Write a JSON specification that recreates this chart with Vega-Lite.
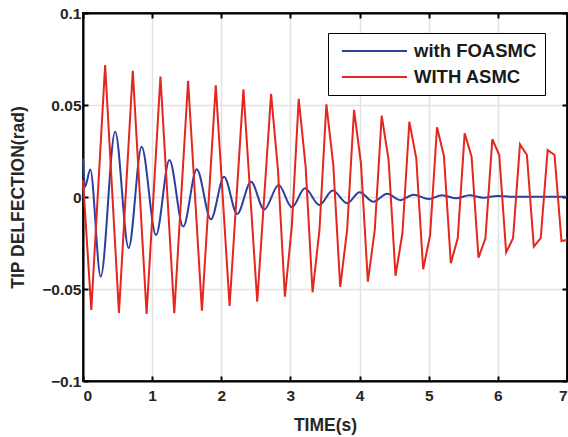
{
  "$schema": "https://vega.github.io/schema/vega-lite/v6.json",
  "width": 484,
  "height": 368,
  "autosize": {"type": "none"},
  "padding": {"left": 83, "top": 13, "right": 1, "bottom": 56},
  "background": "white",
  "config": {
    "view": {"stroke": "black", "strokeWidth": 2},
    "font": "Liberation Sans",
    "axis": {
      "labelFont": "Liberation Sans",
      "labelFontWeight": "bold",
      "labelFontSize": 15.5,
      "labelColor": "#262626",
      "titleFont": "Liberation Sans",
      "titleFontWeight": "bold",
      "titleFontSize": 17.5,
      "titleColor": "#262626",
      "domainColor": "black",
      "domainWidth": 2,
      "tickColor": "black",
      "tickWidth": 2,
      "gridColor": "#e2e2e2",
      "gridWidth": 1.5
    }
  },
  "datasets": {
    "d": [
      {"s": "with FOASMC", "t": 0, "v": 0.021},
      {"s": "with FOASMC", "t": 0.03, "v": 0.0055},
      {"s": "with FOASMC", "t": 0.105, "v": 0.015},
      {"s": "with FOASMC", "t": 0.256, "v": -0.0433},
      {"s": "with FOASMC", "t": 0.465, "v": 0.0355},
      {"s": "with FOASMC", "t": 0.66, "v": -0.0277},
      {"s": "with FOASMC", "t": 0.848, "v": 0.0273},
      {"s": "with FOASMC", "t": 1.056, "v": -0.0207},
      {"s": "with FOASMC", "t": 1.25, "v": 0.0201},
      {"s": "with FOASMC", "t": 1.45, "v": -0.0161},
      {"s": "with FOASMC", "t": 1.645, "v": 0.0151},
      {"s": "with FOASMC", "t": 1.85, "v": -0.0121},
      {"s": "with FOASMC", "t": 2.04, "v": 0.011},
      {"s": "with FOASMC", "t": 2.23, "v": -0.0092},
      {"s": "with FOASMC", "t": 2.43, "v": 0.0083},
      {"s": "with FOASMC", "t": 2.62, "v": -0.0068},
      {"s": "with FOASMC", "t": 2.83, "v": 0.0065},
      {"s": "with FOASMC", "t": 3.02, "v": -0.0056},
      {"s": "with FOASMC", "t": 3.21, "v": 0.0047},
      {"s": "with FOASMC", "t": 3.42, "v": -0.0043},
      {"s": "with FOASMC", "t": 3.61, "v": 0.0035},
      {"s": "with FOASMC", "t": 3.82, "v": -0.0034},
      {"s": "with FOASMC", "t": 4.0, "v": 0.0026},
      {"s": "with FOASMC", "t": 4.2, "v": -0.0026},
      {"s": "with FOASMC", "t": 4.4, "v": 0.0017},
      {"s": "with FOASMC", "t": 4.59, "v": -0.0017},
      {"s": "with FOASMC", "t": 4.78, "v": 0.0012},
      {"s": "with FOASMC", "t": 5.0, "v": -0.0011},
      {"s": "with FOASMC", "t": 5.19, "v": 0.001},
      {"s": "with FOASMC", "t": 5.4, "v": -0.0007},
      {"s": "with FOASMC", "t": 5.59, "v": 0.0009},
      {"s": "with FOASMC", "t": 5.79, "v": -0.0004},
      {"s": "with FOASMC", "t": 5.99, "v": 0.0006},
      {"s": "with FOASMC", "t": 6.2, "v": 0.0001},
      {"s": "with FOASMC", "t": 6.6, "v": 0.0002},
      {"s": "with FOASMC", "t": 7.0, "v": 0.0001},
      {"s": "WITH ASMC", "t": 0, "v": 0.0092},
      {"s": "WITH ASMC", "t": 0.12, "v": -0.0614},
      {"s": "WITH ASMC", "t": 0.32, "v": 0.0717},
      {"s": "WITH ASMC", "t": 0.52, "v": -0.063},
      {"s": "WITH ASMC", "t": 0.72, "v": 0.0686},
      {"s": "WITH ASMC", "t": 0.92, "v": -0.0636},
      {"s": "WITH ASMC", "t": 1.12, "v": 0.0654},
      {"s": "WITH ASMC", "t": 1.32, "v": -0.0632},
      {"s": "WITH ASMC", "t": 1.52, "v": 0.0632},
      {"s": "WITH ASMC", "t": 1.72, "v": -0.0618},
      {"s": "WITH ASMC", "t": 1.92, "v": 0.0607},
      {"s": "WITH ASMC", "t": 2.12, "v": -0.0592},
      {"s": "WITH ASMC", "t": 2.32, "v": 0.0585},
      {"s": "WITH ASMC", "t": 2.52, "v": -0.0569},
      {"s": "WITH ASMC", "t": 2.72, "v": 0.056},
      {"s": "WITH ASMC", "t": 2.82, "v": 0.0147},
      {"s": "WITH ASMC", "t": 2.92, "v": -0.0542},
      {"s": "WITH ASMC", "t": 3.02, "v": -0.0161},
      {"s": "WITH ASMC", "t": 3.12, "v": 0.0533},
      {"s": "WITH ASMC", "t": 3.22, "v": 0.0165},
      {"s": "WITH ASMC", "t": 3.32, "v": -0.0518},
      {"s": "WITH ASMC", "t": 3.42, "v": -0.0179},
      {"s": "WITH ASMC", "t": 3.52, "v": 0.0504},
      {"s": "WITH ASMC", "t": 3.62, "v": 0.0174},
      {"s": "WITH ASMC", "t": 3.72, "v": -0.0488},
      {"s": "WITH ASMC", "t": 3.82, "v": -0.0179},
      {"s": "WITH ASMC", "t": 3.92, "v": 0.0473},
      {"s": "WITH ASMC", "t": 4.02, "v": 0.0183},
      {"s": "WITH ASMC", "t": 4.12, "v": -0.046},
      {"s": "WITH ASMC", "t": 4.22, "v": -0.0179},
      {"s": "WITH ASMC", "t": 4.32, "v": 0.0442},
      {"s": "WITH ASMC", "t": 4.42, "v": 0.0201},
      {"s": "WITH ASMC", "t": 4.52, "v": -0.0428},
      {"s": "WITH ASMC", "t": 4.62, "v": -0.0197},
      {"s": "WITH ASMC", "t": 4.72, "v": 0.0409},
      {"s": "WITH ASMC", "t": 4.82, "v": 0.021},
      {"s": "WITH ASMC", "t": 4.92, "v": -0.0393},
      {"s": "WITH ASMC", "t": 5.02, "v": -0.0207},
      {"s": "WITH ASMC", "t": 5.12, "v": 0.0379},
      {"s": "WITH ASMC", "t": 5.22, "v": 0.0223},
      {"s": "WITH ASMC", "t": 5.32, "v": -0.036},
      {"s": "WITH ASMC", "t": 5.42, "v": -0.0223},
      {"s": "WITH ASMC", "t": 5.52, "v": 0.0346},
      {"s": "WITH ASMC", "t": 5.62, "v": 0.0219},
      {"s": "WITH ASMC", "t": 5.72, "v": -0.033},
      {"s": "WITH ASMC", "t": 5.82, "v": -0.0224},
      {"s": "WITH ASMC", "t": 5.92, "v": 0.0314},
      {"s": "WITH ASMC", "t": 6.02, "v": 0.0228},
      {"s": "WITH ASMC", "t": 6.12, "v": -0.0301},
      {"s": "WITH ASMC", "t": 6.22, "v": -0.0224},
      {"s": "WITH ASMC", "t": 6.32, "v": 0.0286},
      {"s": "WITH ASMC", "t": 6.42, "v": 0.0228},
      {"s": "WITH ASMC", "t": 6.52, "v": -0.027},
      {"s": "WITH ASMC", "t": 6.62, "v": -0.0224},
      {"s": "WITH ASMC", "t": 6.72, "v": 0.0255},
      {"s": "WITH ASMC", "t": 6.82, "v": 0.0228},
      {"s": "WITH ASMC", "t": 6.92, "v": -0.0239},
      {"s": "WITH ASMC", "t": 7.0, "v": -0.0234}
    ]
  },
  "data": {"name": "d"},
  "resolve": {"axis": {"x": "independent", "y": "independent"}},
  "layer": [
    {
      "transform": [{"filter": "datum.s == 'with FOASMC'"}],
      "mark": {"type": "line", "strokeWidth": 2, "interpolate": "monotone"},
      "encoding": {
        "x": {"field": "t", "type": "quantitative", "scale": {"domain": [0, 7], "nice": false},
          "axis": {"title": "TIME(s)", "values": [0,1,2,3,4,5,6,7], "tickSize": -5, "labelPadding": 12, "titlePadding": 13, "orient": "bottom"}},
        "y": {"field": "v", "type": "quantitative", "scale": {"domain": [-0.1, 0.1], "nice": false},
          "axis": {"title": "TIP DELFECTION(rad)", "values": [-0.1, -0.05, 0, 0.05, 0.1], "format": "~g", "tickSize": -5, "labelPadding": 7, "titlePadding": 14, "orient": "left"}},
        "color": {"field": "s", "type": "nominal",
          "scale": {"domain": ["with FOASMC", "WITH ASMC"], "range": ["#2b3fa0", "#e3261e"]},
          "legend": {
            "title": null, "orient": "none", "legendX": 245, "legendY": 20,
            "symbolType": "M-0.444,0H6.778", "symbolSize": 324, "symbolStrokeWidth": 2,
            "labelOffset": 58,
            "labelFont": "Liberation Sans", "labelFontWeight": "bold", "labelFontSize": 18.5, "labelColor": "#1a1a1a",
            "strokeColor": "black", "fillColor": "white", "padding": 8, "rowPadding": 6
          }}
      }
    },
    {
      "transform": [{"filter": "datum.s == 'WITH ASMC'"}],
      "mark": {"type": "line", "strokeWidth": 2},
      "encoding": {
        "x": {"field": "t", "type": "quantitative", "scale": {"domain": [0, 7], "nice": false},
          "axis": {"orient": "top", "values": [0,1,2,3,4,5,6,7], "tickSize": -5, "labels": false, "grid": false, "title": null}},
        "y": {"field": "v", "type": "quantitative", "scale": {"domain": [-0.1, 0.1], "nice": false},
          "axis": {"orient": "right", "values": [-0.1, -0.05, 0, 0.05, 0.1], "tickSize": -5, "labels": false, "grid": false, "title": null}},
        "color": {"field": "s", "type": "nominal"}
      }
    }
  ]
}
